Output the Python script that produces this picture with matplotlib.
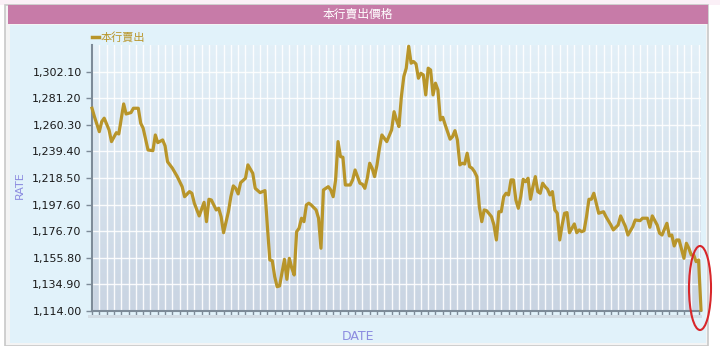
import numpy as np
import matplotlib
matplotlib.use("Agg")
from matplotlib import pyplot as plt
from matplotlib.patches import Rectangle, Ellipse
from matplotlib.colors import LinearSegmentedColormap

plt.rcParams['font.family'] = ['Noto Sans CJK TC', 'DejaVu Sans']

# trading day index and bank selling rate
days = [0, 1, 3, 4, 5, 7, 8, 10, 11, 13, 14, 16, 17, 19, 20, 21, 23, 25, 26, 27,
        29, 30, 31, 33, 35, 37, 38, 40, 41, 42, 44, 46, 47, 48, 49, 51, 52, 53, 54, 56,
        57, 58, 59, 60, 61, 63, 64, 66, 67, 69, 71, 72, 73, 74, 75, 76, 77, 79, 80, 81,
        82, 83, 84, 85, 86, 87, 88, 89, 90, 92, 93, 94, 95, 96, 97, 98, 99, 100, 101, 102,
        103, 104, 106, 107, 108, 110, 111, 112, 113, 114, 115, 116, 117, 118, 119, 121, 123, 124, 125, 126,
        127, 128, 129, 130, 131, 132, 133, 134, 135, 136, 137, 138, 139, 140, 141, 142, 143, 144, 145, 147,
        148, 149, 150, 151, 152, 153, 154, 155, 156, 157, 158, 159, 160, 161, 162, 164, 165, 166, 167, 168,
        169, 170, 171, 172, 173, 174, 175, 176, 177, 178, 179, 180, 181, 182, 183, 184, 185, 186, 187, 188,
        189, 190, 191, 192, 193, 194, 195, 196, 197, 198, 199, 200, 201, 202, 203, 204, 205, 206, 207, 208,
        210, 211, 213, 214, 216, 217, 219, 220, 222, 223, 225, 226, 228, 229, 230, 232, 233, 234, 236, 237,
        238, 239, 240, 241, 243, 244, 245, 246, 247, 248, 249, 250]
rate = [1273.3, 1266.7, 1254.9, 1262.8, 1265.5, 1256.3, 1247.1, 1254.1, 1253.1, 1276.7,
        1268.8, 1269.9, 1273.3, 1273.3, 1261.5, 1257.6, 1240.5, 1240.0, 1252.3, 1246.3,
        1248.4, 1243.7, 1231.3, 1226.2, 1219.6, 1211.7, 1203.8, 1207.8, 1206.5, 1198.7,
        1188.7, 1199.4, 1184.2, 1201.8, 1201.2, 1193.4, 1194.7, 1188.1, 1175.5, 1192.0,
        1203.8, 1212.3, 1210.4, 1206.0, 1214.8, 1218.3, 1228.8, 1222.2, 1210.4, 1207.0,
        1208.6, 1180.3, 1154.1, 1153.5, 1141.0, 1133.1, 1133.7, 1154.6, 1138.9, 1155.4,
        1147.8, 1142.3, 1176.3, 1179.0, 1186.9, 1184.2, 1197.3, 1198.7, 1197.3, 1193.4,
        1186.9, 1163.3, 1209.1, 1210.4, 1211.7, 1209.1, 1203.8, 1217.0, 1247.1, 1235.3,
        1234.8, 1213.0, 1213.0, 1217.0, 1224.8, 1214.4, 1213.6, 1210.4, 1218.3, 1230.1,
        1226.2, 1219.6, 1228.8, 1241.9, 1252.3, 1247.1, 1256.3, 1270.6, 1264.1, 1258.9,
        1282.4, 1298.2, 1304.8, 1322.0, 1308.7, 1310.0, 1308.1, 1296.9, 1300.8, 1299.5,
        1283.8, 1304.8, 1303.4, 1283.8, 1293.0, 1287.7, 1264.1, 1266.2, 1260.2, 1249.0,
        1251.0, 1255.7, 1248.4, 1228.8, 1230.1, 1229.5, 1238.0, 1227.4, 1226.2, 1223.5,
        1219.6, 1196.0, 1184.2, 1193.4, 1192.8, 1188.1, 1181.6, 1169.8, 1192.0, 1192.0,
        1203.8, 1206.5, 1205.2, 1217.0, 1217.0, 1201.2, 1194.7, 1203.8, 1217.5, 1215.6,
        1218.3, 1201.8, 1211.7, 1219.6, 1207.8, 1206.5, 1214.4, 1211.7, 1209.7, 1205.2,
        1207.8, 1193.4, 1190.8, 1169.8, 1181.6, 1190.8, 1191.3, 1175.5, 1179.0, 1182.4,
        1175.5, 1177.7, 1176.3, 1177.1, 1188.1, 1201.8, 1201.8, 1206.5, 1198.7, 1190.8,
        1192.0, 1188.1, 1181.6, 1177.7, 1181.6, 1188.7, 1180.3, 1173.7, 1180.3, 1185.5,
        1185.0, 1186.9, 1186.9, 1179.8, 1188.7, 1181.6, 1175.1, 1173.7, 1182.9, 1173.0,
        1173.7, 1165.1, 1169.8, 1169.8, 1155.4, 1167.2, 1163.3, 1158.0, 1158.0, 1152.8,
        1154.1, 1114.8]

yticks = [1114.00, 1134.90, 1155.80, 1176.70, 1197.60, 1218.50, 1239.40, 1260.30, 1281.20, 1302.10]
ymin, ymax = 1114.0, 1323.0
title = '本行賣出價格'
series_name = '本行賣出'

W, H = 720, 346
fig = plt.figure(figsize=(W / 100, H / 100), dpi=100)
fig.patch.set_facecolor('white')

# outer frame pieces
fig.add_artist(Rectangle((0, 1 - 5 / H), 1, 5 / H, transform=fig.transFigure,
                         facecolor='#fbf0f7', edgecolor='none', zorder=0))
fig.add_artist(Rectangle((5 / W, 0), 703 / W, 1 - 5 / H, transform=fig.transFigure,
                         facecolor='#f4f4f4', edgecolor='#c8c8c8', lw=1.2, zorder=0))
fig.add_artist(Rectangle((10 / W, 3 / H), 696 / W, 318 / H, transform=fig.transFigure,
                         facecolor='#e1f2fa', edgecolor='none', zorder=0))
fig.add_artist(Rectangle((8 / W, 1 - 24 / H), 700 / W, 19 / H, transform=fig.transFigure,
                         facecolor='#c77ba8', edgecolor='none', zorder=1))
fig.text(358 / W, 1 - 14.5 / H, title, color='white', fontsize=8.5,
         ha='center', va='center', zorder=2)

ax = fig.add_axes([92 / W, 35 / H, 609 / W, 266 / H])
ax.set_facecolor('none')
grad = LinearSegmentedColormap.from_list('bg', ['#c9d4e2', '#e3f0f8'])
ax.imshow(np.linspace(0, 1, 256).reshape(-1, 1), extent=[days[0], days[-1], ymin, ymax],
          origin='lower', aspect='auto', cmap=grad, zorder=0)

ax.plot(days, rate, color='#b8952a', lw=2.3, solid_joinstyle='round', zorder=3,
        clip_on=False)

ax.set_xlim(days[0], days[-1])
ax.set_ylim(ymin, ymax)
ax.set_xticks(np.arange(days[0], days[-1] + 1, 3))
ax.set_xticklabels([])
ax.set_yticks(yticks)
ax.set_yticklabels([f'{v:,.2f}' for v in yticks], fontsize=8, color='#1a1a1a',
                   family='DejaVu Sans')
ax.grid(True, color='white', lw=1, alpha=0.9, zorder=1)
ax.set_axisbelow(True)
for s in ['top', 'right']:
    ax.spines[s].set_visible(False)
for s in ['left', 'bottom']:
    ax.spines[s].set_color('#7d8b98')
    ax.spines[s].set_linewidth(1.5)
ax.tick_params(axis='both', direction='out', length=4, width=1, color='#7d8b98')

# faint band under the x axis
fig.add_artist(Rectangle((88 / W, 1 - 318 / H), 614 / W, 3 / H, transform=fig.transFigure,
                         facecolor='#d3dde5', edgecolor='none', zorder=0.5))

fig.text(20 / W, 1 - 185 / H, 'RATE', rotation=90, color='#8c8ce0', fontsize=8,
         ha='center', va='center', family='DejaVu Sans')
fig.text(358 / W, 1 - 336 / H, 'DATE', color='#8c8ce0', fontsize=9,
         ha='center', va='center', family='DejaVu Sans')

# legend
fig.add_artist(plt.Line2D([92 / W, 99 / W], [1 - 37 / H] * 2, color='#b8952a', lw=2.5,
                          transform=fig.transFigure))
fig.text(101 / W, 1 - 37 / H, series_name, color='#b8952a', fontsize=8, va='center')

# red highlight ellipse
fig.add_artist(Ellipse((700 / W, 1 - 288 / H), 22 / W, 84 / H, transform=fig.transFigure,
                       facecolor='none', edgecolor='#d8262a', lw=1.5, zorder=5))

fig.savefig('out.png', dpi=100)
